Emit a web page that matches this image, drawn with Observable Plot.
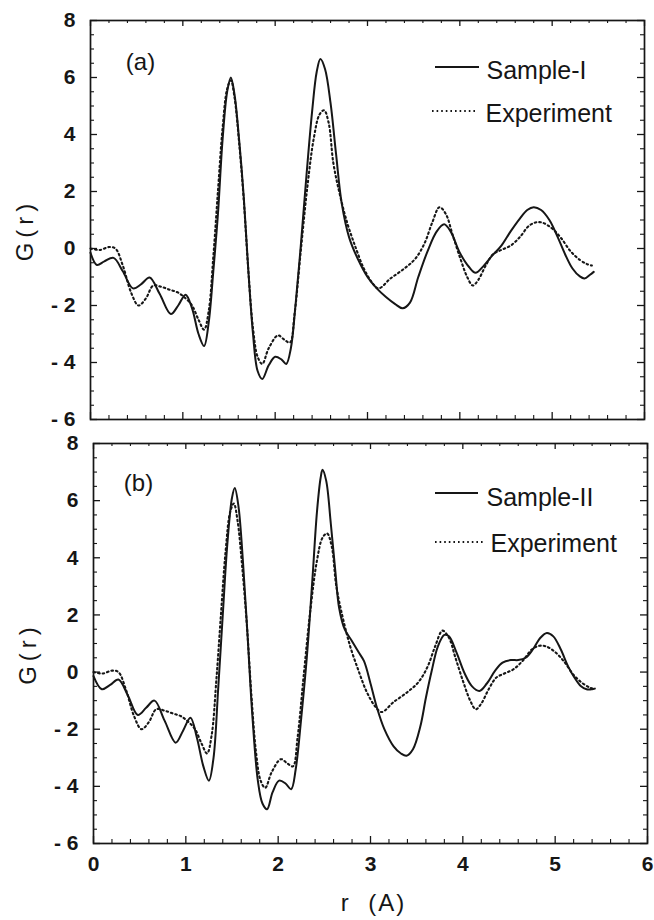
<!DOCTYPE html>
<html><head><meta charset="utf-8">
<script src="https://cdn.jsdelivr.net/npm/d3@7"></script>
<script src="https://cdn.jsdelivr.net/npm/@observablehq/plot@0.6"></script>
<style>
html,body{margin:0;padding:0;background:#fff;}
#chart svg{display:block;}
</style></head><body><div id="chart"></div>
<script>
// ---- data ----
const rSampleI = [0.00,0.07,0.15,0.25,0.35,0.46,0.55,0.64,0.75,0.87,0.95,1.03,1.10,1.17,1.23,1.28,1.33,1.38,1.43,1.48,1.52,1.56,1.61,1.66,1.71,1.76,1.81,1.86,1.93,2.00,2.07,2.12,2.17,2.22,2.28,2.34,2.40,2.45,2.49,2.54,2.60,2.66,2.72,2.80,2.90,3.00,3.10,3.20,3.30,3.38,3.46,3.55,3.65,3.75,3.83,3.90,4.00,4.10,4.17,4.26,4.35,4.45,4.55,4.65,4.73,4.80,4.88,4.97,5.06,5.14,5.22,5.30,5.35,5.41,5.45];
const gSampleI = [-0.15,-0.58,-0.45,-0.33,-0.80,-1.40,-1.25,-1.02,-1.60,-2.30,-2.00,-1.62,-2.10,-3.00,-3.42,-2.60,-0.80,1.20,3.80,5.50,6.00,5.40,3.80,1.80,-0.80,-3.00,-4.30,-4.58,-4.10,-3.80,-3.90,-4.05,-3.50,-2.00,0.20,2.60,4.80,6.20,6.65,6.30,5.10,3.30,1.60,0.40,-0.40,-1.00,-1.40,-1.70,-1.95,-2.10,-1.90,-1.00,-0.10,0.60,0.85,0.60,-0.15,-0.65,-0.85,-0.60,-0.25,0.10,0.60,1.05,1.35,1.45,1.35,1.00,0.40,-0.20,-0.70,-0.98,-1.05,-0.92,-0.82];

const rSampleII = [0.00,0.09,0.18,0.27,0.37,0.48,0.57,0.66,0.77,0.89,0.97,1.05,1.12,1.19,1.25,1.30,1.35,1.40,1.45,1.50,1.53,1.57,1.62,1.67,1.72,1.78,1.83,1.88,1.94,2.01,2.08,2.14,2.19,2.25,2.31,2.37,2.42,2.46,2.48,2.52,2.57,2.62,2.66,2.72,2.80,2.87,2.93,3.00,3.07,3.15,3.25,3.33,3.39,3.46,3.54,3.60,3.66,3.73,3.80,3.85,3.93,4.02,4.10,4.18,4.26,4.35,4.43,4.52,4.60,4.68,4.76,4.84,4.91,4.98,5.06,5.14,5.21,5.28,5.34,5.40,5.43];
const gSampleII = [-0.14,-0.60,-0.45,-0.26,-0.80,-1.50,-1.25,-1.00,-1.70,-2.47,-2.05,-1.60,-2.30,-3.30,-3.80,-3.00,-0.60,2.00,4.50,6.10,6.44,5.80,3.80,1.20,-1.50,-3.80,-4.60,-4.80,-4.20,-3.80,-3.90,-4.10,-3.40,-1.60,0.50,3.20,5.60,6.80,7.08,6.70,5.20,3.50,2.25,1.50,1.08,0.70,0.38,-0.40,-1.25,-2.00,-2.60,-2.85,-2.93,-2.70,-1.90,-0.90,0.00,0.90,1.30,1.25,0.70,-0.05,-0.50,-0.66,-0.40,0.05,0.33,0.42,0.42,0.50,0.80,1.20,1.37,1.25,0.80,0.20,-0.20,-0.50,-0.60,-0.60,-0.58];

const rExperiment = [0.00,0.10,0.20,0.27,0.35,0.44,0.52,0.60,0.68,0.77,0.86,0.95,1.03,1.10,1.17,1.23,1.28,1.33,1.38,1.43,1.48,1.52,1.56,1.61,1.66,1.71,1.76,1.81,1.86,1.93,2.03,2.10,2.16,2.21,2.28,2.35,2.42,2.48,2.53,2.58,2.63,2.70,2.78,2.87,2.96,3.05,3.12,3.25,3.40,3.52,3.62,3.70,3.78,3.85,3.92,4.00,4.08,4.14,4.20,4.28,4.36,4.45,4.55,4.65,4.75,4.83,4.90,5.00,5.10,5.20,5.30,5.38,5.43];
const gExperiment = [0.00,-0.05,0.05,0.00,-0.60,-1.55,-2.00,-1.75,-1.30,-1.35,-1.45,-1.55,-1.75,-2.00,-2.50,-2.85,-2.20,-0.30,2.00,4.20,5.60,5.90,5.30,3.70,1.70,-0.80,-2.80,-3.80,-4.05,-3.50,-3.05,-3.20,-3.30,-2.30,0.00,2.20,3.90,4.70,4.85,4.40,3.00,1.90,0.90,0.05,-0.70,-1.20,-1.40,-1.05,-0.70,-0.35,0.20,0.90,1.45,1.20,0.50,-0.30,-1.00,-1.30,-1.10,-0.60,-0.20,-0.05,0.10,0.40,0.80,0.92,0.90,0.70,0.35,-0.10,-0.40,-0.55,-0.60];

const xMajor = [0,1,2,3,4,5,6];
const xMinor = [0.2,0.4,0.6,0.8,1.2,1.4,1.6,1.8,2.2,2.4,2.6,2.8,3.2,3.4,3.6,3.8,4.2,4.4,4.6,4.8,5.2,5.4,5.6,5.8];
const yMajor = [-6,-4,-2,0,2,4,6,8];
const yMinor = [-5.5,-5,-4.5,-3.5,-3,-2.5,-1.5,-1,-0.5,0.5,1,1.5,2.5,3,3.5,4.5,5,5.5,6.5,7,7.5];

const panelTags = ["(a)", "(b)"];
const sampleNames = ["Sample-I", "Sample-II"];
const expName = "Experiment";
const yTitle = "G(r)";
const xTitle = "r\u00a0\u00a0(A)";

// ---- drawing ----
const ink = "#161616";
const FONT = "'Liberation Sans', Arial, Helvetica, sans-serif";
const DOTS = "1.6,3";
const zip = (rs, gs) => rs.map((r, i) => ({r, g: gs[i]}));
const expData = zip(rExperiment, gExperiment);

function panel(cfg) {
  const W = 654;
  const fw = W - cfg.ml - cfg.mr;
  const fh = cfg.height - cfg.mt - cfg.mb;
  const marks = [
    Plot.frame({stroke: ink, strokeWidth: 1.7}),
    Plot.ruleX(xMajor, {stroke: ink, strokeWidth: 1.3, insetTop: fh - 7}),
    Plot.ruleX(xMajor, {stroke: ink, strokeWidth: 1.3, insetBottom: fh - 6}),
    Plot.ruleX(xMinor, {stroke: ink, strokeWidth: 1.1, insetTop: fh - 4}),
    Plot.ruleX(xMinor, {stroke: ink, strokeWidth: 1.1, insetBottom: fh - 3}),
    Plot.ruleY(yMajor, {stroke: ink, strokeWidth: 1.3, insetRight: fw - 7}),
    Plot.ruleY(yMajor, {stroke: ink, strokeWidth: 1.3, insetLeft: fw - 7}),
    Plot.ruleY(yMinor, {stroke: ink, strokeWidth: 1.1, insetRight: fw - 4}),
    Plot.ruleY(yMinor, {stroke: ink, strokeWidth: 1.1, insetLeft: fw - 4}),
    Plot.axisY({ticks: yMajor, tickSize: 0, tickPadding: 15, label: null,
      tickFormat: d => d < 0 ? "- " + Math.abs(d) : String(d),
      fontSize: 21, fontWeight: "bold", fill: ink}),
    Plot.line(expData, {x: "r", y: "g", curve: "catmull-rom", stroke: ink, strokeWidth: 2.1, strokeDasharray: DOTS}),
    Plot.line(cfg.data, {x: "r", y: "g", curve: "catmull-rom", stroke: ink, strokeWidth: 2}),
    Plot.text([cfg.tag], {frameAnchor: "top-left", dx: cfg.tagDx, dy: cfg.tagDy, textAnchor: "middle", lineAnchor: "middle", fontSize: 24, fill: ink}),
    Plot.text([cfg.name], {frameAnchor: "top-left", dx: cfg.legDx1, dy: cfg.legDy1, textAnchor: "start", lineAnchor: "middle", fontSize: 25, fill: ink}),
    Plot.text([expName], {frameAnchor: "top-left", dx: cfg.legDx2, dy: cfg.legDy2, textAnchor: "start", lineAnchor: "middle", fontSize: 25, fill: ink}),
    Plot.text([yTitle], {frameAnchor: "left", dx: -65, dy: 10, rotate: -90, textAnchor: "middle", lineAnchor: "middle", fontSize: 24, fill: ink})
  ];
  if (cfg.showX) {
    marks.push(Plot.axisX({ticks: xMajor, tickSize: 0, tickPadding: 13, label: null,
      tickFormat: d => String(d), fontSize: 21, fontWeight: "bold", fill: ink}));
    marks.push(Plot.text([xTitle], {frameAnchor: "bottom", dx: 3, dy: 60, textAnchor: "middle", lineAnchor: "middle", fontSize: 24, fill: ink}));
  }
  const svg = Plot.plot({
    width: W, height: cfg.height,
    marginLeft: cfg.ml, marginRight: cfg.mr, marginTop: cfg.mt, marginBottom: cfg.mb,
    style: {fontFamily: FONT, background: "#fff", overflow: "visible"},
    x: {domain: [0, 6], axis: cfg.showX ? undefined : null},
    y: {domain: [-6, 8]},
    marks
  });
  const s = d3.select(svg);
  s.selectAll("text").filter(function() { return this.textContent === yTitle; }).attr("letter-spacing", 5);
  s.selectAll("text").filter(function() { return this.textContent === xTitle; }).attr("letter-spacing", 2);
  // legend swatches (pixel offsets inside the frame)
  s.append("line").attr("x1", cfg.ml + cfg.sw1[0]).attr("x2", cfg.ml + cfg.sw1[1])
    .attr("y1", cfg.mt + cfg.sw1[2]).attr("y2", cfg.mt + cfg.sw1[2])
    .attr("stroke", ink).attr("stroke-width", 2);
  s.append("line").attr("x1", cfg.ml + cfg.sw2[0]).attr("x2", cfg.ml + cfg.sw2[1])
    .attr("y1", cfg.mt + cfg.sw2[2]).attr("y2", cfg.mt + cfg.sw2[2])
    .attr("stroke", ink).attr("stroke-width", 2.1).attr("stroke-dasharray", DOTS);
  return svg;
}

const root = document.getElementById("chart");
root.appendChild(panel({
  data: zip(rSampleI, gSampleI), name: sampleNames[0], tag: panelTags[0],
  height: 431, ml: 90, mr: 10, mt: 20, mb: 12, showX: false,
  tagDx: 50, tagDy: 42, legDx1: 396, legDy1: 50, legDx2: 395, legDy2: 93,
  sw1: [345, 389, 47], sw2: [342, 387, 91]
}));
root.appendChild(panel({
  data: zip(rSampleII, gSampleII), name: sampleNames[1], tag: panelTags[1],
  height: 489, ml: 93, mr: 7, mt: 12, mb: 77, showX: true,
  tagDx: 45, tagDy: 40, legDx1: 393, legDy1: 54, legDx2: 397, legDy2: 100,
  sw1: [342, 385, 50], sw2: [342, 390, 99]
}));
</script></body></html>
